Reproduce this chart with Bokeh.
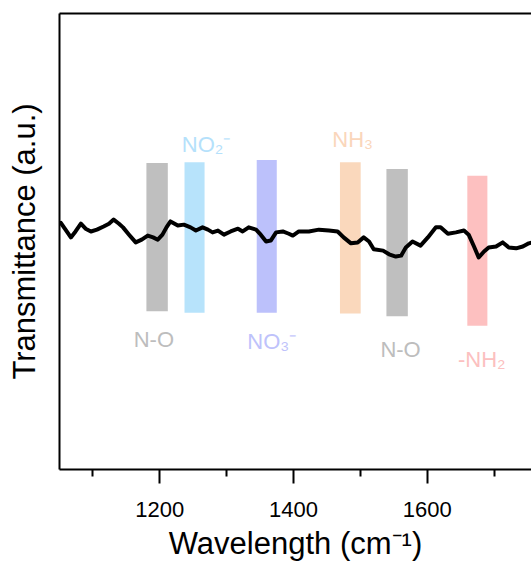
from bokeh.plotting import figure
from bokeh.models import FixedTicker, LinearAxis, Range1d
from bokeh.embed import file_html
from bokeh.resources import INLINE
from bokeh.core.properties import value

# Spectrum (x: wavenumber, y: transmittance in arbitrary units)
wavenumber = [1052, 1059, 1067, 1074, 1082, 1089, 1097, 1106, 1116, 1124, 1131, 1139,
              1145, 1154, 1164, 1173, 1182, 1190, 1197, 1204, 1210, 1216, 1227, 1236,
              1246, 1254, 1264, 1272, 1279, 1287, 1296, 1306, 1317, 1324, 1333, 1344,
              1351, 1359, 1366, 1374, 1384, 1393, 1399, 1408, 1423, 1438, 1453, 1466,
              1475, 1486, 1496, 1505, 1513, 1520, 1534, 1543, 1553, 1561, 1568, 1578,
              1590, 1601, 1613, 1620, 1631, 1643, 1655, 1662, 1670, 1677, 1685, 1692,
              1703, 1713, 1722, 1733, 1743, 1752, 1757]
transmittance = [54.1, 52.6, 50.9, 52.2, 53.9, 52.8, 52.2, 52.6, 53.3, 53.9, 54.8, 53.9,
                 53.1, 51.5, 49.8, 50.4, 51.3, 50.9, 50.4, 51.5, 53.1, 54.4, 53.5, 53.7,
                 53.1, 52.4, 53.1, 52.6, 52.0, 52.4, 51.5, 52.2, 52.8, 52.2, 53.1, 52.6,
                 51.5, 50.0, 50.2, 52.0, 52.2, 51.7, 51.3, 52.2, 52.2, 52.6, 52.4, 52.2,
                 50.9, 49.6, 49.8, 50.9, 50.0, 48.3, 48.0, 47.2, 46.7, 46.9, 48.7, 50.0,
                 49.1, 50.9, 53.1, 53.1, 51.7, 52.0, 52.4, 51.5, 48.9, 46.5, 47.8, 48.7,
                 48.9, 49.8, 48.7, 48.5, 48.9, 49.6, 49.8]

# Assignment bands
band_centers = [1196, 1252, 1360, 1485, 1555, 1675]
band_widths = [32, 30, 30, 31, 32, 30]
band_tops = [67.2, 67.4, 67.9, 67.4, 65.9, 64.4]
band_bottoms = [34.7, 34.4, 34.4, 34.2, 33.6, 31.5]
band_colors = ["#bfbfbf", "#b7e3fb", "#bcc1fb", "#fad8bc", "#bfbfbf", "#fdc0c0"]

# Band labels
label_texts = ["N-O", "NO\u2082\u207b", "NO\u2083\u207b", "NH\u2083", "N-O", "-NH\u2082"]
label_x = [1161, 1233, 1331, 1458, 1530, 1646]
label_y = [28.4, 71.2, 28.0, 72.4, 26.3, 24.2]
label_colors = ["#bdbdbd", "#b5e1fb", "#bec2fb", "#fad6bb", "#bdbdbd", "#fcc0c0"]

x_major = [1200, 1400, 1600]
x_minor = [1100, 1300, 1500, 1700]

FONT = "Liberation Sans"

p = figure(width=531, height=563, output_backend="svg", toolbar_location=None,
           x_range=Range1d(1050, 1756), y_range=Range1d(0, 100),
           min_border_left=59, min_border_right=0, min_border_top=13, min_border_bottom=92)
p.outline_line_color = None
p.xgrid.visible = False
p.ygrid.visible = False
p.background_fill_color = "white"
p.border_fill_color = "white"

p.vbar(x=band_centers, width=band_widths, top=band_tops, bottom=band_bottoms,
       fill_color=band_colors, line_color=None)
p.line(wavenumber, transmittance, line_color="black", line_width=4, line_join="round",
       line_cap="round")
p.text(x=label_x, y=label_y, text=label_texts, text_color=label_colors,
       text_font=value(FONT), text_font_size="22px", text_baseline="alphabetic",
       text_align="left")

xa = p.xaxis[0]
xa.ticker = FixedTicker(ticks=x_major, minor_ticks=x_minor)
xa.axis_line_width = 2
xa.axis_line_color = "black"
xa.major_tick_in = 0
xa.major_tick_out = 14
xa.minor_tick_in = 0
xa.minor_tick_out = 7
xa.major_tick_line_width = 2
xa.minor_tick_line_width = 2
xa.major_tick_line_color = "black"
xa.minor_tick_line_color = "black"
xa.major_label_text_font = FONT
xa.major_label_text_font_size = "22px"
xa.major_label_text_color = "black"
xa.major_label_standoff = 18
xa.axis_label = "Wavelength (cm\u207b\u00b9)"
xa.axis_label_text_font = FONT
xa.axis_label_text_font_size = "31px"
xa.axis_label_text_font_style = "normal"
xa.axis_label_text_color = "black"
xa.axis_label_standoff = 6

ya = p.yaxis[0]
ya.ticker = FixedTicker(ticks=[])
ya.axis_line_width = 2
ya.axis_line_color = "black"
ya.major_tick_line_color = None
ya.minor_tick_line_color = None
ya.major_label_text_font_size = "0px"
ya.axis_label = "Transmittance (a.u.)"
ya.axis_label_text_font = FONT
ya.axis_label_text_font_size = "31px"
ya.axis_label_text_font_style = "normal"
ya.axis_label_text_color = "black"
ya.axis_label_standoff = 18

top = LinearAxis(ticker=FixedTicker(ticks=[]), axis_line_width=2, axis_line_color="black",
                 major_tick_line_color=None, minor_tick_line_color=None,
                 major_label_text_font_size="0px")
p.add_layout(top, "above")

open("out.html", "w").write(file_html(p, INLINE))
